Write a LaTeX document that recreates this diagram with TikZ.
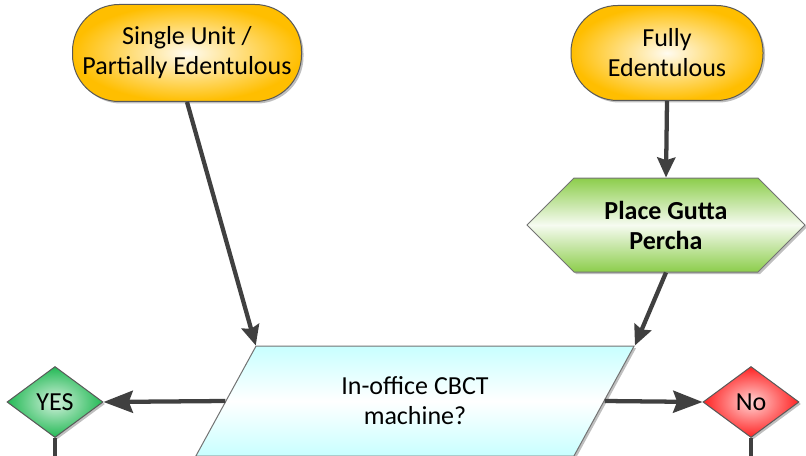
\documentclass[tikz,border=0pt]{standalone}
\usepackage{fontspec}
\setmainfont{Carlito}
\usetikzlibrary{arrows.meta,shapes.geometric,shapes.symbols,shadows}

\definecolor{termgold}{RGB}{255,190,0}
\definecolor{hexgreen}{RGB}{140,205,75}
\definecolor{paracyan}{RGB}{200,255,255}
\definecolor{yesgreen}{RGB}{35,185,85}
\definecolor{nored}{RGB}{255,35,35}
\definecolor{linegray}{RGB}{64,64,64}

\tikzset{every picture/.style={line width=0.75pt}}
\tikzset{
  boxfont/.style={font=\fontsize{19.5pt}{22.5pt}\selectfont, align=center},
  softshadow/.style={drop shadow={shadow xshift=1.5pt, shadow yshift=-1.5pt, opacity=0.25, fill=black}},
  terminal/.style={boxfont, draw=black!65, rounded corners=35pt, shading=radial,
    inner color=termgold!6, outer color=termgold, softshadow},
  prepbox/.style={boxfont, draw=black!55, signal, signal to=east and west, signal pointer angle=90,
    top color=hexgreen, bottom color=hexgreen, middle color=hexgreen!8, softshadow, font=\fontsize{19.5pt}{22.5pt}\selectfont\bfseries},
  iobox/.style={boxfont, draw=black!55, trapezium, trapezium left angle=62.6, trapezium right angle=117.4,
    trapezium stretches=true, top color=paracyan, bottom color=paracyan, middle color=white, softshadow},
  choice/.style={boxfont, draw=black!65, diamond, inner sep=0pt, shading=radial, softshadow},
  flow/.style={draw=linegray, line width=3.2pt, -{Stealth[length=15pt,width=13.5pt,inset=2pt]}},
  bigflow/.style={draw=linegray, line width=3.2pt, -{Stealth[length=22pt,width=16.5pt,inset=3pt]}},
  plainline/.style={draw=linegray, line width=3.2pt}
}

\begin{document}
\begin{tikzpicture}[x=0.75pt,y=0.75pt,yscale=-1,xscale=1]
	\useasboundingbox (0,0) rectangle (806,456);

	%Shape: Terminal [id:single]
	\node[terminal, minimum width=171.75pt, minimum height=72.75pt] (single) at (187,53) {Single Unit /\\Partially Edentulous};
	%Shape: Terminal [id:fully]
	\node[terminal, minimum width=144pt, minimum height=71.25pt] (fully) at (667,53) {Fully\\Edentulous};
	%Shape: Preparation [id:gutta]
	\node[prepbox, minimum width=208.5pt, minimum height=70.5pt] (gutta) at (666,225) {Place Gutta\\Percha};
	%Shape: Data [id:cbct]
	\node[iobox, minimum width=329.25pt, minimum height=82.5pt] (cbct) at (415,401) {In-office CBCT\\machine?};
	%Shape: Decision [id:yes]
	\node[choice, inner color=yesgreen!20, outer color=yesgreen, minimum width=72pt, minimum height=53.25pt] (yes) at (55,402) {YES};
	%Shape: Decision [id:no]
	\node[choice, inner color=nored!20, outer color=nored, minimum width=72pt, minimum height=53.25pt] (no) at (751,402) {No};

	\coordinate (yesdown) at (55,456);
	\coordinate (nodown) at (751,456);

	%Straight Lines
	\draw[flow] (single.south) -- (cbct.top left corner);
	\draw[flow] (fully.south) -- (gutta.north);
	\draw[flow] (gutta.south) -- (cbct.top right corner);
	\draw[bigflow] (cbct.west) -- (yes.east);
	\draw[bigflow] (cbct.east) -- (no.west);
	\draw[plainline] (yes.south) -- (yesdown);
	\draw[plainline] (no.south) -- (nodown);

\end{tikzpicture}
\end{document}
